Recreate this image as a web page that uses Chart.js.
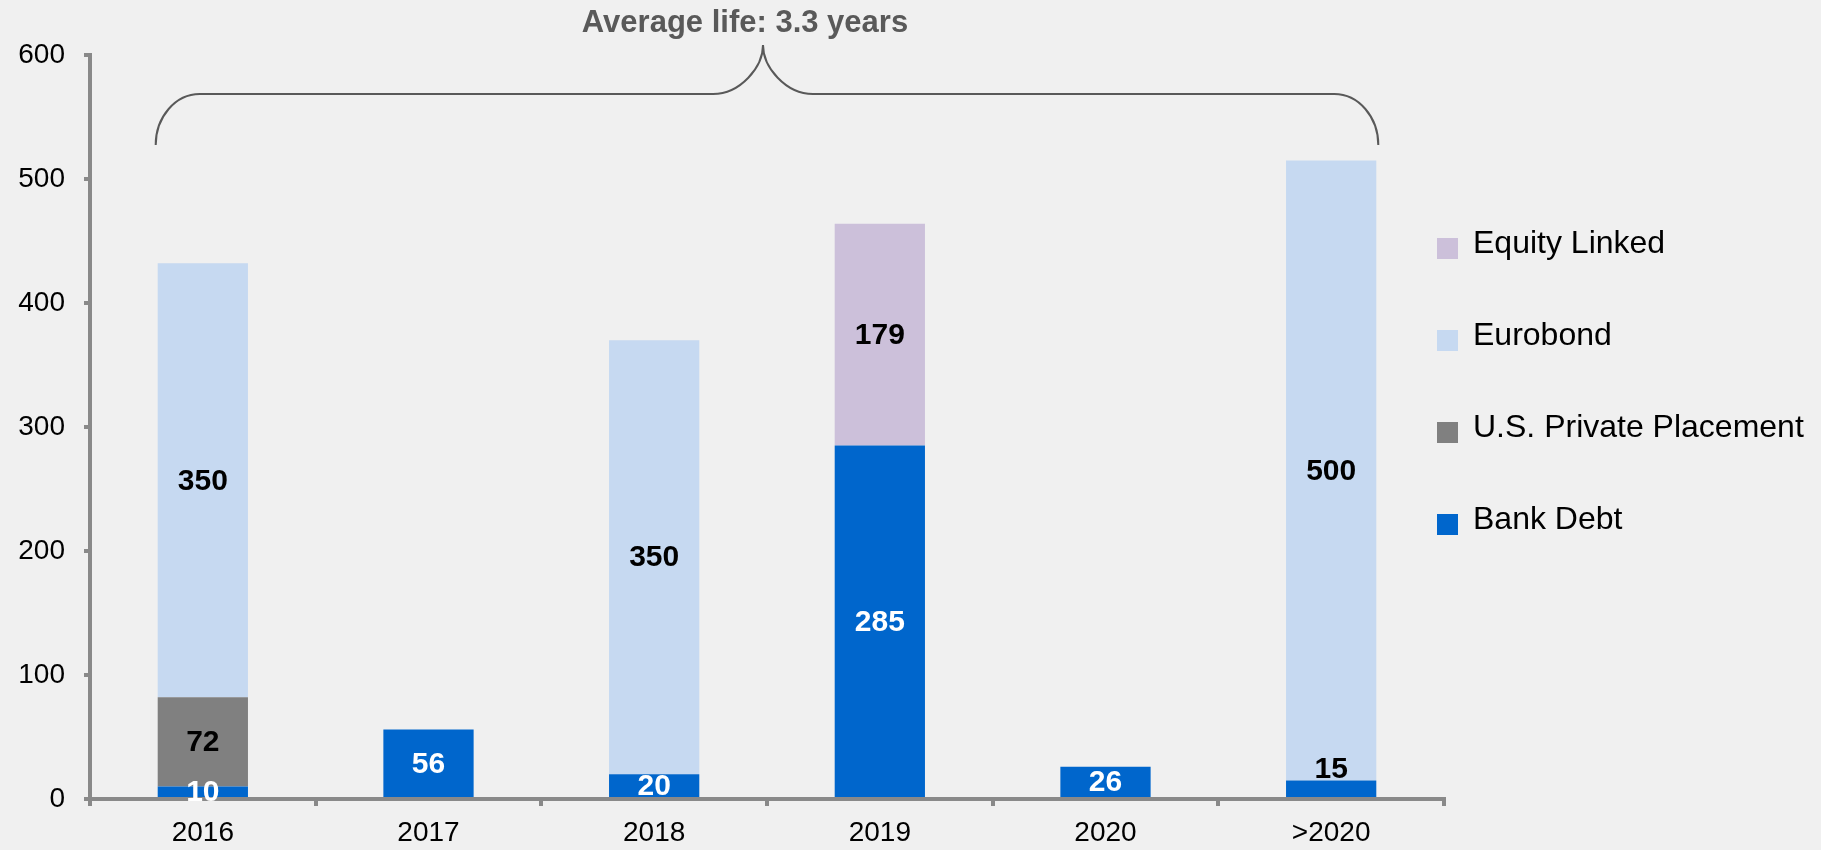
<!DOCTYPE html>
<html>
<head>
<meta charset="utf-8">
<script src="https://cdn.jsdelivr.net/npm/chart.js@4"></script>
<style>
  html, body { margin: 0; padding: 0; background: #f0f0f0; }
  canvas { display: block; }
</style>
</head>
<body>
<canvas id="maturities" width="1821" height="850"></canvas>
<script>
var years = ["2016", "2017", "2018", "2019", "2020", ">2020"];
var bankDebt = [10, 56, 20, 285, 26, 15];
var usPrivate = [72, 0, 0, 0, 0, 0];
var eurobond = [350, 0, 350, 0, 0, 500];
var equityLinked = [0, 0, 0, 179, 0, 0];
var yTicks = [0, 100, 200, 300, 400, 500, 600];
var titleText = "Average life: 3.3 years";

var FONT = "'Liberation Sans', Arial, sans-serif";
var axisGrey = "#898989";

// labels inside the bars
var barLabels = {
  id: "barLabels",
  afterDatasetsDraw: function(chart) {
    var ctx = chart.ctx;
    ctx.save();
    ctx.font = "bold 30px " + FONT;
    ctx.textAlign = "center";
    chart.data.datasets.forEach(function(ds, di) {
      var meta = chart.getDatasetMeta(di);
      meta.data.forEach(function(bar, i) {
        var v = ds.data[i];
        if (!v) return;
        var h = bar.base - bar.y;
        if (di == 0 && h < 20 && !usPrivate[i] && eurobond[i]) {
          // thin bank debt piece under eurobond: label sits on top of it
          ctx.fillStyle = "#000";
          ctx.textBaseline = "alphabetic";
          ctx.fillText(v, bar.x, bar.y - 2);
          return;
        }
        ctx.fillStyle = ds.labelColor;
        ctx.textBaseline = "middle";
        ctx.fillText(v, bar.x, (bar.y + bar.base) / 2 + 1);
      });
    });
    ctx.restore();
  }
};

// brace and title over the bars
var brace = {
  id: "brace",
  afterDraw: function(chart) {
    var ctx = chart.ctx;
    var x = chart.scales.x;
    var meta = chart.getDatasetMeta(0);
    var half = meta.data[0].width / 2;
    var L = x.getPixelForValue(0) - half - 2;
    var R = x.getPixelForValue(years.length - 1) + half + 2;
    var M = (L + R) / 2 - 4;
    var yb = 145, yh = 94, yp = 45, k = 0.55;
    ctx.save();
    ctx.strokeStyle = "#595959";
    ctx.lineWidth = 2;
    ctx.beginPath();
    ctx.moveTo(L, yb);
    ctx.bezierCurveTo(L, yb - (yb - yh) * k, L + 44 - 44 * k, yh, L + 44, yh);
    ctx.lineTo(M - 50, yh);
    ctx.bezierCurveTo(M - 50 + 50 * k, yh, M, yh - (yh - yp) * k, M, yp);
    ctx.bezierCurveTo(M, yh - (yh - yp) * k, M + 50 - 50 * k, yh, M + 50, yh);
    ctx.lineTo(R - 44, yh);
    ctx.bezierCurveTo(R - 44 + 44 * k, yh, R, yb - (yb - yh) * k, R, yb);
    ctx.stroke();

    ctx.fillStyle = "#595959";
    ctx.font = "bold 31px " + FONT;
    ctx.textAlign = "center";
    ctx.textBaseline = "middle";
    ctx.fillText(titleText, M - 18, 23);
    ctx.restore();
  }
};

// legend on the right, top series first
var sideLegend = {
  id: "sideLegend",
  afterDraw: function(chart) {
    var ctx = chart.ctx;
    var sets = chart.data.datasets.slice().reverse();
    ctx.save();
    ctx.font = "32px " + FONT;
    ctx.textBaseline = "middle";
    ctx.textAlign = "left";
    sets.forEach(function(ds, i) {
      var cy = 244 + i * 92;
      ctx.fillStyle = ds.backgroundColor;
      ctx.fillRect(1437, cy - 6, 21, 21);
      ctx.fillStyle = "#000";
      ctx.fillText(ds.label, 1473, cy);
    });
    ctx.restore();
  }
};

new Chart("maturities", {
  type: "bar",
  data: {
    labels: years,
    datasets: [{
      label: "Bank Debt",
      data: bankDebt,
      backgroundColor: "#0066cc",
      labelColor: "#fff"
    }, {
      label: "U.S. Private Placement",
      data: usPrivate,
      backgroundColor: "#808080",
      labelColor: "#000"
    }, {
      label: "Eurobond",
      data: eurobond,
      backgroundColor: "#c6d9f1",
      labelColor: "#000"
    }, {
      label: "Equity Linked",
      data: equityLinked,
      backgroundColor: "#ccc0da",
      labelColor: "#000"
    }]
  },
  options: {
    responsive: false,
    animation: false,
    layout: { padding: { top: 55, right: 377, bottom: 0, left: 0 } },
    datasets: { bar: { categoryPercentage: 1, barPercentage: 0.4 } },
    plugins: {
      legend: { display: false },
      tooltip: { enabled: false }
    },
    scales: {
      x: {
        stacked: true,
        grid: { drawOnChartArea: false, color: axisGrey, lineWidth: 4, tickLength: 7, offset: true },
        border: { color: axisGrey, width: 4 },
        ticks: { color: "#000", font: { family: FONT, size: 28 }, padding: 10 },
        afterFit: function(s) { s.height = 51; }
      },
      y: {
        stacked: true,
        min: 0,
        max: 600,
        afterBuildTicks: function(s) { s.ticks = yTicks.map(function(v) { return { value: v }; }); },
        grid: { drawOnChartArea: false, color: axisGrey, lineWidth: 4, tickLength: 6 },
        border: { color: axisGrey, width: 4 },
        ticks: { color: "#000", font: { family: FONT, size: 28 }, padding: 19 },
        afterFit: function(s) { s.width = 90; }
      }
    }
  },
  plugins: [barLabels, brace, sideLegend]
});
</script>
</body>
</html>
